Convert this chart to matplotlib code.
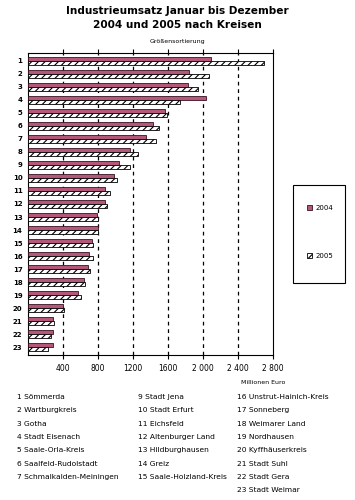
import numpy as np
import matplotlib
matplotlib.use('Agg')
import matplotlib.pyplot as plt
from matplotlib.patches import Rectangle

# Data (Millionen Euro)
ranks = list(range(1, 24))
umsatz_2004 = [2090, 1845, 1830, 2030, 1560, 1430, 1350, 1170, 1045, 985,
               885, 885, 785, 805, 735, 700, 680, 640, 575, 405,
               280, 280, 280]
umsatz_2005 = [2700, 2070, 1945, 1740, 1590, 1500, 1465, 1260, 1160, 1020,
               940, 905, 805, 795, 745, 745, 705, 655, 605, 415,
               300, 265, 230]
xticks = [400, 800, 1200, 1600, 2000, 2400, 2800]
xtick_labels = ['400', '800', '1200', '1600', '2 000', '2 400', '2 800']
kreise = ['Sömmerda', 'Wartburgkreis', 'Gotha', 'Stadt Eisenach', 'Saale-Orla-Kreis',
          'Saalfeld-Rudolstadt', 'Schmalkalden-Meiningen', None, 'Stadt Jena',
          'Stadt Erfurt', 'Eichsfeld', 'Altenburger Land', 'Hildburghausen', 'Greiz',
          'Saale-Holzland-Kreis', 'Unstrut-Hainich-Kreis', 'Sonneberg', 'Weimarer Land',
          'Nordhausen', 'Kyffhäuserkreis', 'Stadt Suhl', 'Stadt Gera', 'Stadt Weimar']

plt.rcParams['font.family'] = ['DejaVu Sans']
plt.rcParams['hatch.linewidth'] = 0.8

fig = plt.figure(figsize=(3.55, 5.0), dpi=100)
ax = fig.add_axes([0.079, 0.29, 0.69, 0.604])
ax.set_axisbelow(True)

y = np.arange(len(ranks))
h = 0.3
ax.barh(y - 0.17, umsatz_2004, height=h, color='#b4587a', edgecolor='#3a1020',
        linewidth=0.6, zorder=3)
ax.barh(y + 0.17, umsatz_2005, height=h, color='white', edgecolor='black', linewidth=0.6,
        hatch='/////', zorder=3)

ax.set_xlim(0, 2800)
ax.set_ylim(len(ranks) - 0.4, -0.6)
ax.set_yticks(y)
ax.set_yticklabels([str(r) for r in ranks], fontsize=5, fontweight='bold')
ax.set_xticks(xticks)
ax.set_xticklabels(xtick_labels, fontsize=5.5)
ax.tick_params(axis='y', length=0, pad=4)
ax.tick_params(axis='x', length=3, direction='out', width=0.8, top=True)
for xv in xticks[:-1]:
    ax.axvline(xv, color='black', linestyle=(0, (3, 3)), linewidth=0.9, zorder=1)
for s in ax.spines.values():
    s.set_linewidth(0.8)

fig.text(0.5, 0.978, 'Industrieumsatz Januar bis Dezember', ha='center', va='center',
         fontsize=7.6, fontweight='heavy')
fig.text(0.5, 0.950, '2004 und 2005 nach Kreisen', ha='center', va='center',
         fontsize=7.6, fontweight='heavy')
fig.text(0.5, 0.916, 'Größensortierung', ha='center', va='center', fontsize=4.5)
fig.text(0.74, 0.234, 'Millionen Euro', ha='center', va='center', fontsize=4.5)

# legend box
fig.add_artist(Rectangle((293 / 355, 1 - 283 / 500), 52 / 355, 98 / 500,
                         transform=fig.transFigure, fill=False, edgecolor='black', linewidth=0.8))
fig.add_artist(Rectangle((307 / 355, 1 - 210 / 500), 5 / 355, 5 / 500,
                         transform=fig.transFigure, facecolor='#b4587a', edgecolor='#3a1020',
                         linewidth=0.6))
fig.add_artist(Rectangle((307 / 355, 1 - 258 / 500), 5 / 355, 5 / 500,
                         transform=fig.transFigure, facecolor='white', edgecolor='black',
                         linewidth=0.6, hatch='////'))
fig.text(316 / 355, 1 - 207.5 / 500, '2004', fontsize=5, va='center')
fig.text(316 / 355, 1 - 255.5 / 500, '2005', fontsize=5, va='center')

# list of Kreise below chart
col_x = [17 / 355, 138 / 355, 237 / 355]
col_rows = [range(0, 7), range(8, 15), range(15, 23)]
for cx, rows in zip(col_x, col_rows):
    for i, k in enumerate(rows):
        yy = 1 - (397 + i * 13.3) / 500
        fig.text(cx, yy, f'{k + 1} {kreise[k]}', fontsize=5.4, va='center')

fig.savefig('out.png', dpi=100)
